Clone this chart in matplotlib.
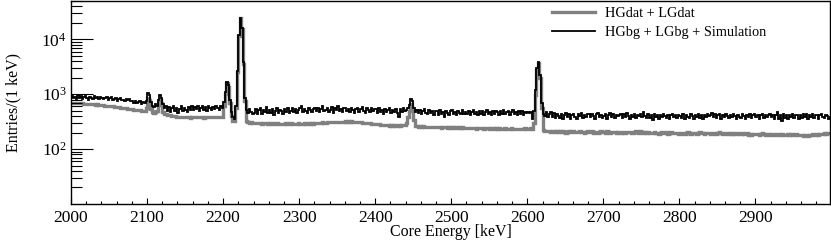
import numpy as np
import matplotlib
matplotlib.use("Agg")
import matplotlib.pyplot as plt
from matplotlib.ticker import LogLocator, LogFormatterMathtext, NullFormatter, MultipleLocator, FixedLocator

plt.rcParams['font.family'] = ['Liberation Serif', 'DejaVu Serif']
plt.rcParams['mathtext.fontset'] = 'stix'

## Histogram binning: 2 keV bins from 2000 to 3000 keV
bin_width = 2
edges = np.arange(2000, 3000 + bin_width, bin_width)

## HGbg + LGbg + Simulation (black), 40 keV per row
sim_counts = [
    940, 870, 900, 820, 960, 850, 910, 830, 880, 940, 860, 800, 900, 870, 830, 910, 850, 880, 820, 900,
    870, 810, 860, 900, 790, 840, 880, 780, 830, 850, 760, 820, 870, 790, 800, 740, 830, 770, 810, 750,
    760, 700, 740, 680, 720, 750, 660, 710, 690, 760, 1050, 960, 720, 620, 580, 660, 600, 780, 980, 870,
    660, 560, 600, 500, 580, 480, 550, 610, 500, 570, 460, 540, 600, 490, 560, 520, 470, 580, 520, 600,
    510, 590, 540, 620, 490, 560, 600, 520, 580, 500, 610, 550, 510, 590, 530, 610, 560, 520, 600, 570,
    720, 1100, 1650, 1450, 780, 470, 380, 350, 620, 2600, 12000, 25000, 16000, 3800, 850, 510, 450, 540, 480, 430,
    460, 540, 440, 520, 550, 430, 510, 470, 580, 450, 520, 460, 540, 410, 500, 550, 460, 520, 490, 440,
    530, 470, 560, 460, 500, 570, 480, 540, 460, 520, 550, 600, 470, 530, 500, 450, 550, 510, 480, 540,
    550, 490, 570, 470, 530, 600, 490, 520, 560, 480, 510, 580, 460, 550, 520, 610, 490, 540, 470, 570,
    570, 490, 540, 470, 550, 510, 460, 530, 560, 480, 540, 580, 490, 450, 550, 510, 470, 560, 490, 530,
    530, 460, 550, 480, 520, 440, 540, 470, 510, 550, 460, 520, 480, 540, 450, 390, 530, 480, 550, 500,
    520, 560, 640, 830, 760, 560, 470, 520, 450, 510, 440, 490, 530, 460, 430, 510, 450, 500, 420, 490,
    490, 410, 510, 440, 480, 390, 500, 450, 420, 490, 520, 440, 480, 410, 500, 450, 430, 510, 440, 480,
    440, 500, 420, 480, 510, 430, 470, 410, 500, 440, 490, 420, 480, 520, 430, 470, 410, 490, 440, 500,
    480, 420, 490, 440, 520, 430, 480, 500, 420, 470, 510, 430, 480, 410, 490, 440, 500, 420, 480, 460,
    480, 450, 470, 360, 500, 1200, 3000, 3850, 2200, 700, 440, 400, 470, 380, 440, 480, 390, 450, 370, 430,
    400, 370, 440, 350, 420, 450, 380, 430, 360, 420, 440, 380, 350, 430, 400, 450, 370, 420, 380, 440,
    430, 380, 440, 400, 360, 430, 450, 380, 420, 370, 400, 440, 360, 420, 460, 380, 430, 370, 420, 400,
    420, 440, 370, 430, 380, 450, 400, 360, 420, 380, 430, 370, 420, 400, 440, 380, 470, 400, 370, 430,
    370, 420, 340, 430, 380, 410, 360, 420, 380, 430, 400, 370, 420, 360, 410, 440, 380, 420, 370, 410,
    400, 370, 430, 360, 420, 380, 370, 430, 400, 360, 420, 380, 440, 370, 410, 350, 420, 380, 430, 400,
    420, 460, 380, 430, 370, 410, 440, 360, 420, 380, 430, 400, 370, 420, 380, 440, 400, 360, 420, 380,
    370, 430, 400, 350, 420, 380, 440, 370, 410, 430, 380, 420, 360, 410, 430, 370, 420, 380, 410, 430,
    380, 420, 360, 410, 480, 350, 420, 320, 430, 370, 410, 360, 420, 380, 430, 370, 410, 420, 360, 410,
    370, 430, 380, 440, 360, 420, 380, 430, 370, 410, 420, 360, 410, 430, 380, 370, 420, 400, 360, 390,
]

## HGdat + LGdat (gray)
dat_counts = [
    705, 700, 690, 698, 688, 692, 680, 684, 672, 678, 668, 672, 660, 665, 655, 658, 648, 652, 642, 636,
    630, 624, 618, 622, 610, 604, 608, 598, 592, 588, 582, 576, 572, 566, 562, 556, 552, 548, 542, 536,
    530, 526, 520, 516, 510, 506, 502, 498, 494, 560, 860, 780, 540, 470, 462, 470, 500, 640, 780, 700,
    480, 440, 430, 422, 416, 410, 404, 400, 396, 392, 388, 386, 384, 382, 386, 380, 378, 382, 376, 380,
    382, 388, 384, 378, 386, 390, 382, 376, 384, 388, 380, 386, 392, 384, 380, 388, 384, 390, 386, 392,
    600, 1000, 1580, 1380, 700, 400, 330, 320, 560, 2500, 11500, 24500, 15500, 3600, 760, 330, 312, 305, 310, 302,
    305, 300, 296, 302, 298, 292, 296, 300, 294, 290, 296, 300, 292, 288, 294, 298, 290, 286, 292, 288,
    290, 294, 288, 292, 296, 290, 286, 292, 288, 294, 290, 286, 292, 296, 290, 288, 294, 290, 296, 292,
    296, 300, 298, 302, 300, 306, 304, 302, 306, 310, 306, 312, 308, 314, 310, 316, 312, 318, 314, 318,
    320, 316, 322, 316, 320, 314, 318, 312, 310, 308, 306, 304, 302, 300, 298, 296, 294, 292, 290, 288,
    286, 282, 284, 278, 280, 274, 276, 270, 274, 268, 272, 266, 270, 264, 268, 272, 268, 274, 270, 276,
    300, 380, 500, 660, 560, 340, 268, 262, 258, 262, 256, 260, 254, 258, 252, 256, 250, 254, 258, 252,
    256, 250, 254, 246, 252, 248, 256, 244, 250, 246, 252, 244, 248, 254, 246, 250, 244, 248, 242, 246,
    240, 246, 242, 238, 244, 240, 236, 242, 246, 238, 242, 236, 240, 244, 238, 234, 240, 244, 236, 240,
    232, 238, 234, 230, 236, 240, 232, 228, 234, 238, 230, 236, 232, 228, 234, 230, 236, 232, 238, 234,
    236, 232, 240, 236, 300, 950, 2800, 3700, 2000, 560, 220, 214, 218, 210, 214, 208, 212, 216, 206, 210,
    206, 210, 204, 212, 206, 200, 208, 212, 204, 210, 214, 206, 202, 208, 212, 204, 208, 200, 206, 210,
    202, 206, 210, 200, 204, 208, 198, 204, 210, 202, 206, 200, 212, 204, 198, 206, 202, 208, 196, 202,
    200, 196, 204, 200, 194, 206, 202, 208, 200, 196, 204, 210, 202, 198, 214, 206, 200, 204, 198, 202,
    200, 194, 198, 204, 196, 200, 190, 196, 202, 194, 198, 204, 192, 198, 202, 196, 200, 194, 198, 192,
    190, 196, 200, 192, 196, 204, 198, 192, 196, 200, 194, 190, 198, 202, 194, 198, 192, 196, 200, 194,
    190, 186, 194, 200, 190, 196, 204, 194, 190, 186, 194, 198, 190, 194, 188, 196, 192, 188, 194, 190,
    190, 196, 186, 190, 194, 184, 190, 180, 190, 186, 192, 188, 184, 190, 194, 186, 182, 190, 186, 184,
    186, 190, 180, 184, 190, 186, 180, 188, 184, 178, 184, 188, 182, 186, 180, 184, 188, 182, 178, 184,
    180, 176, 180, 184, 174, 178, 182, 186, 180, 184, 188, 184, 190, 186, 192, 196, 190, 196, 200, 198,
]

labels = ['HGdat + LGdat', 'HGbg + LGbg + Simulation']
x_ticks = [2000, 2100, 2200, 2300, 2400, 2500, 2600, 2700, 2800, 2900]
y_ticks = [1e2, 1e3, 1e4]

W, H = 831, 241
fig = plt.figure(figsize=(W / 100, H / 100), dpi=100)
ax = fig.add_axes([71 / W, (H - 204) / H, (830 - 71) / W, 203 / H])

ax.stairs(dat_counts, edges, baseline=None, color='#808080', lw=2.4, label=labels[0])
ax.stairs(sim_counts, edges, baseline=None, color='black', lw=1.3, label=labels[1])

ax.set_yscale('log')
ax.set_ylim(10, 5e4)
ax.set_xlim(2000, 2998)

ax.xaxis.set_major_locator(FixedLocator(x_ticks))
ax.xaxis.set_minor_locator(MultipleLocator(20))
ax.yaxis.set_major_locator(FixedLocator(y_ticks))
ax.yaxis.set_major_formatter(LogFormatterMathtext())
ax.yaxis.set_minor_locator(LogLocator(base=10, subs=np.arange(2, 10), numticks=20))
ax.yaxis.set_minor_formatter(NullFormatter())

ax.tick_params(axis='x', which='major', direction='in', length=4.5, width=0.8, labelsize=12.5, pad=4)
ax.tick_params(axis='x', which='minor', direction='in', length=2.5, width=0.8)
ax.tick_params(axis='y', which='major', direction='in', length=16, width=0.8, labelsize=12.5, pad=3)
ax.tick_params(axis='y', which='minor', direction='in', length=8, width=0.8)
for s in ax.spines.values():
    s.set_linewidth(1.0)

ax.set_xlabel('Core Energy [keV]', fontsize=11.5, va='center')
ax.set_ylabel('Entries/(1 keV)', fontsize=11.5, va='center')
ax.xaxis.set_label_coords(0.5, -(232 - 204) / 203)
ax.yaxis.set_label_coords(-(71 - 13) / 759, 0.5)

ax.legend(loc='upper left', bbox_to_anchor=((552 - 71) / 759, 1 - 6 / 203), frameon=False,
          fontsize=10.3, handlelength=3.0, handletextpad=0.7, labelspacing=0.45,
          borderpad=0, borderaxespad=0)

fig.savefig('out.png', dpi=100)
